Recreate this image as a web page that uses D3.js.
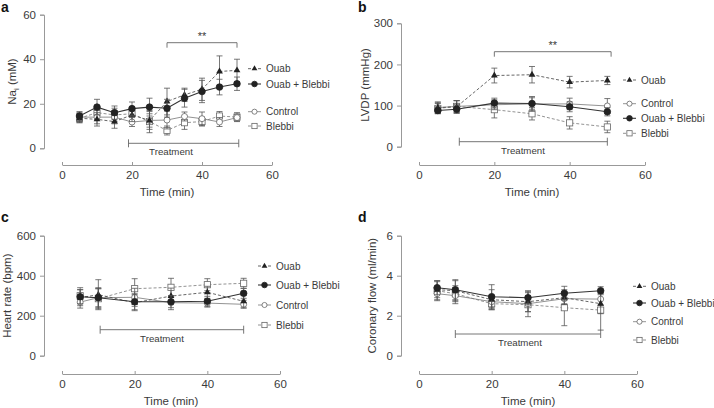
<!DOCTYPE html>
<html><head><meta charset="utf-8">
<script src="https://cdn.jsdelivr.net/npm/d3@7"></script>
<style>
body{margin:0;background:#fff;}
svg{display:block;font-family:"Liberation Sans",Arial,sans-serif;}
</style></head>
<body><svg id="c" width="714" height="408"></svg>
<script>
// ---------- DATA ----------
const seriesNames = ["Ouab", "Ouab + Blebbi", "Control", "Blebbi"];
const xTicks = [0, 20, 40, 60];

// Panel a: Na_i (mM)
const timesA = [5, 10, 15, 20, 25, 30, 35, 40, 45, 50];
const naOuab = [13.5, 13, 12, 15, 12.5, 21, 24, 26.5, 34.5, 35];
const naOuabErr = [2, 3, 3, 3, 4, 6, 3, 5, 7, 5];
const naOuabBlebbi = [14.5, 18.5, 16, 17.8, 18.5, 18, 22.5, 25.5, 27.5, 29];
const naOuabBlebbiErr = [2, 3.5, 3, 3, 4, 4, 4, 5, 3.5, 3];
const naControl = [14, 14, 14, 11.8, 12.5, 12.7, 14.3, 13.3, 11.8, 13.8];
const naControlErr = [2, 3, 3, 2, 3, 4, 2, 3, 2, 1.5];
const naBlebbi = [13.5, 16, 15, 15.5, 12, 8, 11.5, 12, 14.5, 14];
const naBlebbiErr = [2, 3, 3, 3, 5, 2, 3, 2, 2, 2];
const naTicks = [0, 20, 40, 60];

// Panels b-d share time points
const timesB = [5, 10, 20, 30, 40, 50];
// Panel b: LVDP (mmHg)
const lvdpOuab = [95, 97, 173, 175, 157, 161];
const lvdpOuabErr = [12, 15, 18, 20, 14, 10];
const lvdpOuabBlebbi = [88, 91, 106, 105, 97, 85];
const lvdpOuabBlebbiErr = [8, 10, 12, 14, 12, 10];
const lvdpControl = [95, 98, 102, 104, 104, 99];
const lvdpControlErr = [14, 14, 12, 18, 14, 18];
const lvdpBlebbi = [93, 98, 90, 80, 58, 48];
const lvdpBlebbiErr = [12, 14, 20, 15, 15, 14];
const lvdpTicks = [0, 100, 200, 300];

// Panel c: Heart rate (bpm)
const hrOuab = [290, 305, 265, 298, 317, 272];
const hrOuabErr = [40, 75, 40, 40, 30, 30];
const hrOuabBlebbi = [295, 290, 270, 270, 272, 312];
const hrOuabBlebbiErr = [35, 45, 40, 30, 25, 25];
const hrControl = [268, 290, 292, 265, 263, 257];
const hrControlErr = [30, 50, 45, 35, 20, 20];
const hrBlebbi = [300, 285, 335, 342, 355, 362];
const hrBlebbiErr = [40, 50, 50, 45, 30, 25];
const hrTicks = [0, 200, 400, 600];

// Panel d: Coronary flow (ml/min)
const cfOuab = [3.3, 3.25, 2.8, 2.7, 2.9, 2.6];
const cfOuabErr = [0.4, 0.5, 0.5, 0.5, 0.3, 0.5];
const cfOuabBlebbi = [3.4, 3.3, 2.95, 2.9, 3.12, 3.25];
const cfOuabBlebbiErr = [0.35, 0.5, 0.6, 0.35, 0.35, 0.2];
const cfControl = [3.1, 3.0, 2.7, 2.6, 2.85, 2.83];
const cfControlErr = [0.3, 0.4, 0.3, 0.4, 0.3, 0.3];
const cfBlebbi = [3.25, 3.1, 2.6, 2.55, 2.4, 2.28];
const cfBlebbiErr = [0.5, 0.4, 0.3, 0.6, 0.9, 1.0];
const cfTicks = [0, 2, 4, 6];

// Treatment & significance brackets (time units)
const treatA = [19, 50.5], sigA = [30, 50];
const treatB = [10.7, 50], sigB = [20, 51];
const treatC = [10.5, 50];
const treatD = [10, 50];

// ---------- STYLE ----------
const styles = {
  "Ouab": {dash: "3,2", marker: "triangle", fill: "#222", lw: 0.9, stroke: "#555"},
  "Ouab + Blebbi": {dash: null, marker: "circle", fill: "#222", lw: 1.1, stroke: "#333"},
  "Control": {dash: null, marker: "circle", fill: "#fff", lw: 0.8, stroke: "#777"},
  "Blebbi": {dash: "3,2", marker: "square", fill: "#fff", lw: 0.8, stroke: "#777"}
};
const axisColor = "#999";
const textColor = "#3a3a3a";

const svg = d3.select("#c");

function drawMarker(g, type, x, y, fill, k) {
  k = k || 1;
  if (type === "circle") {
    g.append("circle").attr("cx", x).attr("cy", y).attr("r", (fill === "#fff" ? 3.0 : 3.3) * k)
      .attr("fill", fill).attr("stroke", fill === "#fff" ? "#666" : "#222").attr("stroke-width", 0.8);
  } else if (type === "square") {
    const h = 3.1 * k;
    g.append("rect").attr("x", x - h).attr("y", y - h).attr("width", 2 * h).attr("height", 2 * h)
      .attr("fill", fill).attr("stroke", "#666").attr("stroke-width", 0.8);
  } else {
    const s = d3.symbol().type(d3.symbolTriangle).size(20 * k * k);
    g.append("path").attr("d", s()).attr("transform", `translate(${x},${y})`).attr("fill", fill);
  }
}

function panel(cfg) {
  const g = svg.append("g");
  const x = d3.scaleLinear().domain([0, 60]).range(cfg.xr);
  const y = d3.scaleLinear().domain([cfg.yTicks[0], cfg.yTicks[cfg.yTicks.length - 1]]).range(cfg.yr);

  // y axis
  const ya = g.append("g").attr("transform", `translate(${cfg.yAxisX},0)`)
    .call(d3.axisLeft(y).tickValues(cfg.yTicks).tickFormat(d3.format("d")).tickSize(4).tickPadding(4));
  ya.attr("font-family", null).attr("font-size", null);
  ya.select(".domain").attr("stroke", axisColor);
  ya.selectAll(".tick line").attr("stroke", axisColor);
  ya.selectAll("text").attr("font-size", 11.5).attr("fill", textColor);

  // x axis (offset, ticks inward)
  const xa = g.append("g").attr("transform", `translate(0,${cfg.xAxisY})`)
    .call(d3.axisBottom(x).tickValues(xTicks).tickSize(-3).tickPadding(6).tickSizeOuter(0));
  xa.attr("font-family", null).attr("font-size", null);
  xa.select(".domain").attr("stroke", axisColor);
  xa.selectAll(".tick line").attr("stroke", axisColor);
  xa.selectAll("text").attr("font-size", 11.5).attr("fill", textColor);

  // axis titles
  g.append("text").attr("x", (cfg.xr[0] + cfg.xr[1]) / 2).attr("y", cfg.xAxisY + 31)
    .attr("text-anchor", "middle").attr("font-size", 11.5).attr("fill", textColor).text("Time (min)");
  const yt = g.append("text").attr("transform", `translate(${cfg.yTitleX},${(cfg.yr[0] + cfg.yr[1]) / 2}) rotate(-90)`)
    .attr("text-anchor", "middle").attr("font-size", 11.5).attr("fill", textColor);
  if (cfg.ySub) {
    yt.append("tspan").text(cfg.yTitle);
    yt.append("tspan").attr("font-size", 7.5).attr("dy", 3).text(cfg.ySub);
    yt.append("tspan").attr("dy", -3).text(" (mM)");
  } else yt.text(cfg.yTitle);

  // panel letter
  g.append("text").attr("x", cfg.letterX).attr("y", cfg.letterY).attr("font-size", 14)
    .attr("font-weight", "bold").attr("fill", "#111").text(cfg.letter);

  // treatment bracket
  const ty = cfg.treatY;
  const tb = g.append("g").attr("stroke", "#666").attr("stroke-width", 0.9).attr("fill", "none");
  tb.append("line").attr("x1", x(cfg.treat[0])).attr("x2", x(cfg.treat[1])).attr("y1", ty).attr("y2", ty);
  tb.append("line").attr("x1", x(cfg.treat[0])).attr("x2", x(cfg.treat[0])).attr("y1", ty - 4).attr("y2", ty + 4);
  tb.append("line").attr("x1", x(cfg.treat[1])).attr("x2", x(cfg.treat[1])).attr("y1", ty - 4).attr("y2", ty + 4);
  g.append("text").attr("x", cfg.treatTextX).attr("y", ty + 12).attr("text-anchor", "middle")
    .attr("font-size", 9.7).attr("fill", textColor).text("Treatment");

  // significance bracket
  if (cfg.sig) {
    const sy = cfg.sigY;
    const sb = g.append("g").attr("stroke", "#666").attr("stroke-width", 0.9);
    sb.append("line").attr("x1", x(cfg.sig[0])).attr("x2", x(cfg.sig[1])).attr("y1", sy).attr("y2", sy);
    sb.append("line").attr("x1", x(cfg.sig[0])).attr("x2", x(cfg.sig[0])).attr("y1", sy).attr("y2", sy + 5);
    sb.append("line").attr("x1", x(cfg.sig[1])).attr("x2", x(cfg.sig[1])).attr("y1", sy).attr("y2", sy + 5);
    g.append("text").attr("x", (x(cfg.sig[0]) + x(cfg.sig[1])) / 2).attr("y", sy - 3)
      .attr("text-anchor", "middle").attr("font-size", 11).attr("fill", textColor).text("**");
  }

  // series
  const order = ["Blebbi", "Control", "Ouab", "Ouab + Blebbi"];
  order.forEach(name => {
    const s = cfg.series[name];
    const st = styles[name];
    const pts = cfg.times.map((t, i) => ({t, v: s.v[i], e: s.e[i]}));
    const eg = g.append("g").attr("stroke", "#555").attr("stroke-width", 0.8);
    pts.forEach(p => {
      eg.append("line").attr("x1", x(p.t)).attr("x2", x(p.t)).attr("y1", y(p.v - p.e)).attr("y2", y(p.v + p.e));
      [p.v - p.e, p.v + p.e].forEach(w => eg.append("line").attr("x1", x(p.t) - 3).attr("x2", x(p.t) + 3).attr("y1", y(w)).attr("y2", y(w)));
    });
    const line = d3.line().x(p => x(p.t)).y(p => y(p.v));
    g.append("path").datum(pts).attr("d", line).attr("fill", "none").attr("stroke", st.stroke)
      .attr("stroke-width", st.lw).attr("stroke-dasharray", st.dash);
    pts.forEach(p => drawMarker(g, st.marker, x(p.t), y(p.v), st.fill));
  });

  // legend
  cfg.legend.forEach(([name, ly]) => {
    const st = styles[name];
    const lx = cfg.legendX;
    g.append("line").attr("x1", lx).attr("x2", lx + 13).attr("y1", ly).attr("y2", ly)
      .attr("stroke", st.stroke).attr("stroke-width", st.lw).attr("stroke-dasharray", st.dash);
    drawMarker(g, st.marker, lx + 6.5, ly, st.fill, 0.85);
    g.append("text").attr("x", lx + 18).attr("y", ly + 3.6).attr("font-size", 10).attr("fill", textColor).text(name);
  });
}

panel({
  letter: "a", letterX: 1, letterY: 12,
  xr: [62, 272], yr: [148.3, 14.7], yAxisX: 44, xAxisY: 165,
  yTicks: naTicks, yTitle: "Na", ySub: "i", yTitleX: 16,
  times: timesA,
  series: {
    "Ouab": {v: naOuab, e: naOuabErr},
    "Ouab + Blebbi": {v: naOuabBlebbi, e: naOuabBlebbiErr},
    "Control": {v: naControl, e: naControlErr},
    "Blebbi": {v: naBlebbi, e: naBlebbiErr}
  },
  treat: treatA, treatY: 143.3, treatTextX: 171,
  sig: sigA, sigY: 42.7,
  legendX: 248, legend: [["Ouab", 68.7], ["Ouab + Blebbi", 84], ["Control", 111.7], ["Blebbi", 126]]
});

panel({
  letter: "b", letterX: 358, letterY: 12,
  xr: [419, 645], yr: [146.7, 23.3], yAxisX: 401, xAxisY: 165,
  yTicks: lvdpTicks, yTitle: "LVDP (mmHg)", yTitleX: 369,
  times: timesB,
  series: {
    "Ouab": {v: lvdpOuab, e: lvdpOuabErr},
    "Ouab + Blebbi": {v: lvdpOuabBlebbi, e: lvdpOuabBlebbiErr},
    "Control": {v: lvdpControl, e: lvdpControlErr},
    "Blebbi": {v: lvdpBlebbi, e: lvdpBlebbiErr}
  },
  treat: treatB, treatY: 141.7, treatTextX: 523,
  sig: sigB, sigY: 51.7,
  legendX: 623, legend: [["Ouab", 80], ["Control", 103.7], ["Ouab + Blebbi", 118.3], ["Blebbi", 133.3]]
});

panel({
  letter: "c", letterX: 1, letterY: 222,
  xr: [62, 280], yr: [355.7, 235.7], yAxisX: 44, xAxisY: 374,
  yTicks: hrTicks, yTitle: "Heart rate (bpm)", yTitleX: 11,
  times: timesB,
  series: {
    "Ouab": {v: hrOuab, e: hrOuabErr},
    "Ouab + Blebbi": {v: hrOuabBlebbi, e: hrOuabBlebbiErr},
    "Control": {v: hrControl, e: hrControlErr},
    "Blebbi": {v: hrBlebbi, e: hrBlebbiErr}
  },
  treat: treatC, treatY: 329.7, treatTextX: 162,
  legendX: 258, legend: [["Ouab", 266], ["Ouab + Blebbi", 285], ["Control", 305], ["Blebbi", 325]]
});

panel({
  letter: "d", letterX: 358, letterY: 222,
  xr: [419, 637], yr: [355.7, 235.7], yAxisX: 401, xAxisY: 374,
  yTicks: cfTicks, yTitle: "Coronary flow (ml/min)", yTitleX: 376,
  times: timesB,
  series: {
    "Ouab": {v: cfOuab, e: cfOuabErr},
    "Ouab + Blebbi": {v: cfOuabBlebbi, e: cfOuabBlebbiErr},
    "Control": {v: cfControl, e: cfControlErr},
    "Blebbi": {v: cfBlebbi, e: cfBlebbiErr}
  },
  treat: treatD, treatY: 334, treatTextX: 520,
  legendX: 633, legend: [["Ouab", 286.3], ["Ouab + Blebbi", 303], ["Control", 321.7], ["Blebbi", 340]]
});
</script></body></html>
